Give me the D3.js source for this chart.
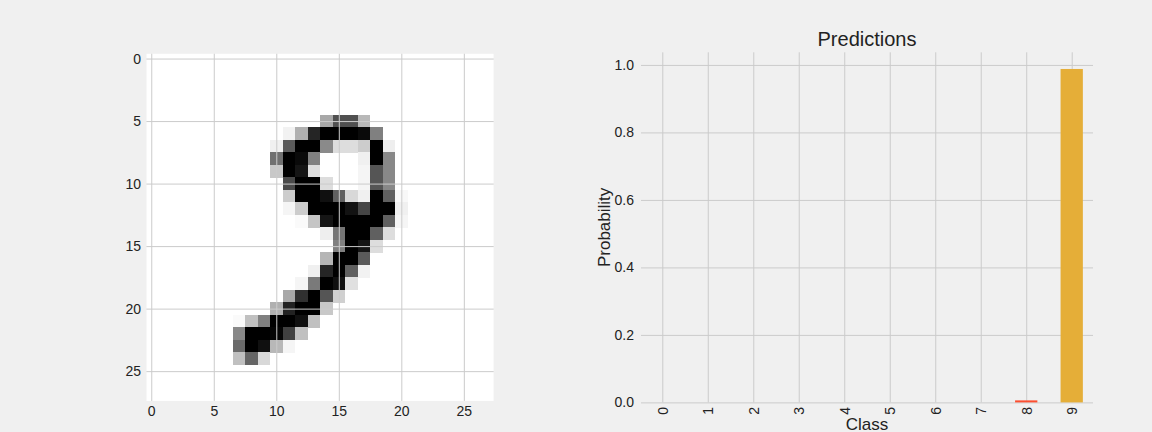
<!DOCTYPE html>
<html>
<head>
<meta charset="utf-8">
<script src="https://cdn.jsdelivr.net/npm/d3@7"></script>
<style>
  html, body { margin: 0; padding: 0; background: #f0f0f0; }
  svg { display: block; }
  text { font-family: "Liberation Sans", Arial, Helvetica, sans-serif; fill: #222; }
</style>
</head>
<body>
<svg id="chart" width="1152" height="432"></svg>
<script>
// ---------------- data ----------------
const imageSize = 28;
const imageTicks = [0, 5, 10, 15, 20, 25];
// [row, col, darkness 0..255] for non-blank pixels of the digit image
const digitPixels = [
  [5,14,87],[5,15,175],[5,16,175],[5,17,71],
  [6,11,13],[6,12,79],[6,13,218],[6,14,255],[6,15,255],[6,16,255],[6,17,245],[6,18,127],
  [7,10,15],[7,11,165],[7,12,255],[7,13,255],[7,14,117],[7,15,34],[7,16,34],[7,17,51],[7,18,255],[7,19,17],
  [8,10,143],[8,11,255],[8,12,245],[8,13,127],[8,17,15],[8,18,255],[8,19,119],
  [9,10,55],[9,11,255],[9,12,234],[9,13,34],[9,17,10],[9,18,170],[9,19,119],
  [10,11,181],[10,12,255],[10,13,255],[10,14,34],[10,17,10],[10,18,170],[10,19,119],
  [11,11,51],[11,12,255],[11,13,255],[11,14,239],[11,15,159],[11,16,39],[11,17,15],[11,18,255],[11,19,159],[11,20,7],
  [12,11,10],[12,12,51],[12,13,255],[12,14,255],[12,15,255],[12,16,237],[12,17,186],[12,18,255],[12,19,255],[12,20,15],
  [13,12,5],[13,13,58],[13,14,234],[13,15,255],[13,16,255],[13,17,255],[13,18,255],[13,19,159],[13,20,10],
  [14,14,17],[14,15,138],[14,16,255],[14,17,255],[14,18,159],[14,19,34],
  [15,15,127],[15,16,255],[15,17,234],[15,18,34],
  [16,14,74],[16,15,255],[16,16,255],[16,17,165],
  [17,13,15],[17,14,218],[17,15,255],[17,16,159],[17,17,13],
  [18,12,10],[18,13,133],[18,14,255],[18,15,239],[18,16,31],
  [19,11,87],[19,12,207],[19,13,255],[19,14,170],[19,15,47],
  [20,10,79],[20,11,221],[20,12,255],[20,13,255],[20,14,55],
  [21,7,5],[21,8,63],[21,9,127],[21,10,255],[21,11,255],[21,12,239],[21,13,63],
  [22,7,119],[22,8,255],[22,9,255],[22,10,250],[22,11,191],[22,12,63],
  [23,7,149],[23,8,255],[23,9,239],[23,10,71],[23,11,10],
  [24,7,63],[24,8,154],[24,9,39]
];

const classes = ["0","1","2","3","4","5","6","7","8","9"];
const probabilities = [0, 0, 0, 0, 0, 0, 0, 0, 0.006, 0.988];
const barColors = ["#008fd5","#008fd5","#008fd5","#008fd5","#008fd5","#008fd5","#008fd5","#008fd5","#fc4f30","#e5ae38"];
const probTicks = [0, 0.2, 0.4, 0.6, 0.8, 1.0];
const titleText = "Predictions";
const xLabelText = "Class";
const yLabelText = "Probability";

// ---------------- layout ----------------
const svg = d3.select("#chart");
const plotTop = 52.3, plotBottom = 402.4;
const gridColor = "#cbcbcb";
const bg = "#f0f0f0";

// ---------- left panel: image ----------
const imgLeft = 145, imgRight = 145 + (plotBottom - plotTop);
const xi = d3.scaleLinear().domain([-0.5, imageSize - 0.5]).range([imgLeft, imgRight]);
const yi = d3.scaleLinear().domain([-0.5, imageSize - 0.5]).range([plotTop, plotBottom]);
const cell = xi(1) - xi(0);

const gImg = svg.append("g");
gImg.append("rect")
  .attr("x", imgLeft).attr("y", plotTop)
  .attr("width", imgRight - imgLeft).attr("height", plotBottom - plotTop)
  .attr("fill", "#ffffff");

gImg.selectAll("rect.px").data(digitPixels).join("rect")
  .attr("class", "px")
  .attr("x", d => xi(d[1] - 0.5))
  .attr("y", d => yi(d[0] - 0.5))
  .attr("width", cell + 0.3)
  .attr("height", cell + 0.3)
  .attr("shape-rendering", "crispEdges")
  .attr("fill", d => { const g = 255 - d[2]; return `rgb(${g},${g},${g})`; });

function styleAxis(g) {
  g.select(".domain").remove();
  g.selectAll(".tick line").attr("stroke", gridColor).attr("stroke-width", 1);
  g.selectAll(".tick text").style("font-size", "14px").attr("fill", "#222")
    .style("font-family", '"Liberation Sans", Arial, sans-serif');
}

const imgXAxis = d3.axisBottom(xi).tickValues(imageTicks).tickFormat(d3.format("d"))
  .tickSize(-(plotBottom - plotTop)).tickPadding(4);
const imgYAxis = d3.axisLeft(yi).tickValues(imageTicks).tickFormat(d3.format("d"))
  .tickSize(-(imgRight - imgLeft)).tickPadding(4);

svg.append("g").attr("transform", `translate(0,${plotBottom})`).call(imgXAxis).call(styleAxis);
svg.append("g").attr("transform", `translate(${imgLeft},0)`).call(imgYAxis).call(styleAxis);

// spine-like border in background colour
svg.append("rect")
  .attr("x", imgLeft).attr("y", plotTop)
  .attr("width", imgRight - imgLeft).attr("height", plotBottom - plotTop)
  .attr("fill", "none").attr("stroke", bg).attr("stroke-width", 3);

// ---------- right panel: bar chart ----------
const barLeft = 641, barRight = 1093;
const xb = d3.scaleLinear().domain([-0.468, 9.468]).range([barLeft, barRight]);
const yb = d3.scaleLinear().domain([0, 1.0374]).range([plotBottom, plotTop]);
const barWidth = 0.49;

const gx = svg.append("g").attr("transform", `translate(0,${plotBottom})`)
  .call(d3.axisBottom(xb).tickValues(classes.map((c, i) => i)).tickFormat(i => classes[i])
    .tickSize(-(plotBottom - plotTop)).tickPadding(0))
  .call(styleAxis);
gx.selectAll(".tick text")
  .attr("transform", "rotate(-90)")
  .attr("text-anchor", "end")
  .attr("x", -4.5)
  .attr("y", 0)
  .attr("dy", "0.35em");

svg.append("g").attr("transform", `translate(${barLeft},0)`)
  .call(d3.axisLeft(yb).tickValues(probTicks).tickFormat(d3.format(".1f"))
    .tickSize(-(barRight - barLeft)).tickPadding(7))
  .call(styleAxis);

svg.append("g").selectAll("rect").data(probabilities).join("rect")
  .attr("x", (d, i) => xb(i - barWidth / 2))
  .attr("width", (d, i) => xb(i + barWidth / 2) - xb(i - barWidth / 2))
  .attr("y", d => yb(d))
  .attr("height", d => yb(0) - yb(d))
  .attr("fill", (d, i) => barColors[i]);

svg.append("text")
  .attr("x", (barLeft + barRight) / 2).attr("y", 45.7)
  .attr("text-anchor", "middle").style("font-size", "20px")
  .text(titleText);

svg.append("text")
  .attr("x", (barLeft + barRight) / 2).attr("y", 429.5)
  .attr("text-anchor", "middle").style("font-size", "17px")
  .text(xLabelText);

svg.append("text")
  .attr("transform", `translate(610,${(plotTop + plotBottom) / 2}) rotate(-90)`)
  .attr("text-anchor", "middle").style("font-size", "17px")
  .text(yLabelText);
</script>
</body>
</html>
